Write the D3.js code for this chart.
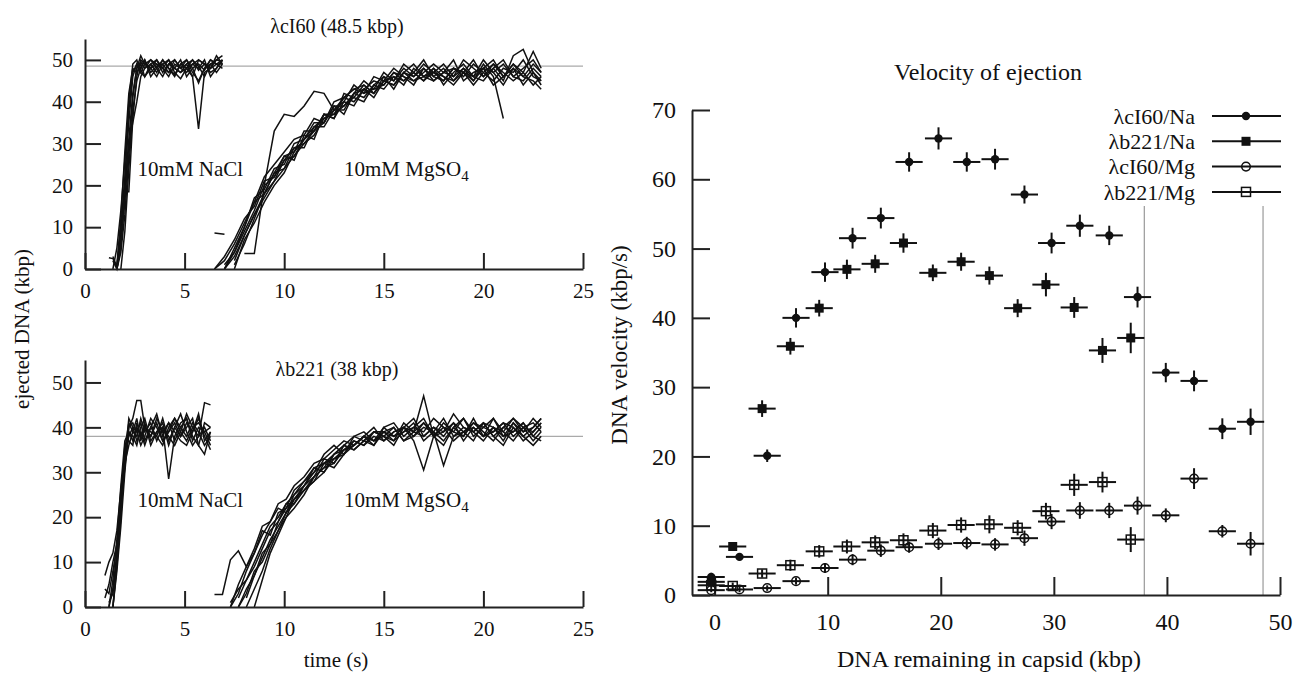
<!DOCTYPE html>
<html>
<head>
<meta charset="utf-8">
<script src="https://cdn.jsdelivr.net/npm/d3@7"></script>
<style>
  body { margin: 0; background: #fff; }
  text { font-family: "Liberation Serif", "DejaVu Serif", serif; fill: #111; }
</style>
</head>
<body>
<div id="chart"></div>
<script>
// ---- left panels: ejection traces (kbp vs s) ----
const timeTicks = [0, 5, 10, 15, 20, 25];
const kbpTicks  = [0, 10, 20, 30, 40, 50];

// λcI60, NaCl
const tNaTop = [1.2,1.4,1.6,1.8,2.0,2.2,2.4,2.6,2.8,3.0,3.3,3.6,3.9,4.2,4.5,4.8,5.1,5.4,5.7,6.0,6.3,6.6,6.9];
const naTop = [
  [2.7,2.5,0.5,9,19,31,42,48,49.5,48,49,47,50,48,46.5,49,48,50,47.5,49,48,50,51],
  [null,0,5,14,26,38,47,49,48,50,47,48.5,49,47,48,50,46,48,49,47.5,50,49,48],
  [null,null,0,7,18.5,18.5,36,46,50,49,48,50,47,49,48,47,49,50,48.5,46,49,50,49.5],
  [null,null,0,4,13,27,41,48,51,49,50,48,46,49,50,48,49,46,33.5,47,48,49,50],
  [null,3,0.5,10,22,35,46,49,47,46,48,49,48,50,47,45.5,48,49,50,49,47,48,50],
  [null,null,0,6,16,30,35,40,46,48,50,49,48,46,49,48,50,47,45,48,50,49,49],
  [null,null,1,12,28,42,48,47,49,46,49,50,48,47,50,48,47,49,48,50,46,48,50],
  [null,null,null,0,9,24,38,45,48,50,46,48,50,48,46,49,50,48,44.5,48,49,47,49],
  [null,2,0,5,20,40,49,50,47,49,48,46,49,50,48,47,48,46,50,49,48,51,49]
];
// λcI60, MgSO4
const tMgTop = [6.5,7.0,7.5,8.0,8.5,9.0,9.5,10.0,10.5,11.0,11.5,12.0,12.5,13.0,13.5,14.0,14.5,15.0,15.5,16.0,16.5,17.0,17.5,18.0,18.5,19.0,19.5,20.0,20.5,21.0,21.5,22.0,22.5,22.9];
const mgTop = [
  [0,3,7,12,15,21,22,27,28,33,33,37,37,41,40,43,42,45,44,47,46,48,45,47,48,46,49,47,45,48,47,50,46,45],
  [null,0,5,10,17,19,24,25,30,31,35,35,39,39,42,41,44,43,46,45,47,45,47,49,46,48,45,48,50,46,49,47,44,46],
  [null,1,4,9,14,20,22,26,27,31,34,36,38,40,39,43,45,44,47,46,44,48,46,45,48,47,50,46,48,45,51,52.5,47,44],
  [null,null,2,8,13,18,23,24,29,30,33,37,36,42,41,44,42,46,45,49,47,45,48,46,44,47,45,49,46,36],
  [null,null,null,3.7,3.7,20,33,37,36.5,39,42.5,42,38,41,43,44,42,45,44,47,49,46,47,45,48,47,46,48,47,49,46,48,50,47],
  [0,2,6,11,16,22,25,28,31,32,36,35,40,41,43,42,46,45,48,46,45,47,49,47,46,50,48,46,49,47,45,47,52,48],
  [null,0,3,8,13,17,21,24,27,30,32,36,37,39,41,40,44,46,43,47,45,46,48,44,47,49,46,45,48,50,46,45,48,46],
  [null,null,1,6,12,18,21,26,29,29,34,34,38,38,42,43,41,45,46,44,48,46,45,47,50,45,47,48,44,46,49,46,45,43],
  [null,0,4,10,16,18,23,27,26,32,31,37,36,40,44,42,43,47,45,48,46,49,47,46,45,48,46,50,47,44,48,46,49,47],
  [null,null,0,7,11,16,20,23,28,31,33,35,39,37,42,45,43,44,47,45,47,50,46,48,45,47,44,47,49,46,48,44,47,45],
  [8.6,8.3]
];

// λb221, NaCl
const tNaBot = [1.0,1.2,1.4,1.6,1.8,2.0,2.2,2.4,2.6,2.8,3.0,3.3,3.6,3.9,4.2,4.5,4.8,5.1,5.4,5.7,6.0,6.3];
const naBot = [
  [7,10,12,17,26,34,40,42,46,46,40,38,41,37,39,42,40,38,41,39,36,38],
  [2,5,10,14,22,31,39,37,40,38,41,36,39,40,28.5,38,41,42,37,40,39,40],
  [null,0,4,12,24,35,41,39,38,42,39,41,37,40,38,36,39,43,40,38,45.5,45],
  [null,null,0,9,20,33,38,40,37,39,36,40,43,38,41,39,37,36,39,42,38,35],
  [null,1,3,11,23,36,37,36,41,38,40,39,38,42,37,40,43,39,36,38,40,37],
  [null,null,0,8,18,30,40,41,39,36,38,42,40,37,39,41,38,40,42,36,34,39],
  [null,0,6,15,27,37,39,38,36,40,42,37,39,41,36,40,38,41,39,43,37,39],
  [4,3,8,13,25,33,42,40,39,41,37,40,38,36,40,42,39,37,40,41,39,36],
  [null,null,0,10,21,32,36,39,42,37,40,38,42,39,41,37,40,42,38,36,41,40]
];
// λb221, MgSO4
const tMgBot = [6.5,6.9,7.3,7.7,8.1,8.5,8.9,9.3,9.7,10.1,10.5,11.0,11.5,12.0,12.5,13.0,13.5,14.0,14.5,15.0,15.5,16.0,16.5,17.0,17.5,18.0,18.5,19.0,19.5,20.0,20.5,21.0,21.5,22.0,22.5,22.9];
const mgBot = [
  [2.8,2.8,10.5,12.5,9,12,16,19,22,21,25,27,30,32,33,35,37,36,39,38,40,37,39,41,38,40,39,42,38,40,39,41,38,40,39,41],
  [null,null,0,3,8,12,17,16,21,22,24,27,29,31,34,35,36,38,37,39,38,40,39,47,38,36,40,38,41,39,37,40,39,41,38,40],
  [null,null,null,0,4,7,11,15,18,21,23,26,28,30,33,34,37,36,38,37,39,40,37,30.5,38,39,41,37,40,38,42,39,37,40,41,39],
  [null,null,null,null,0,4,8,13,17,20,22,25,29,31,32,35,36,38,36,39,40,37,38,40,39,31.5,38,40,39,41,38,36,40,38,36,38],
  [null,null,1,4,6,10,14,18,20,23,25,28,31,30,34,36,35,37,39,38,37,41,39,38,40,39,43,40,39,37,40,38,41,39,42,40],
  [null,null,null,null,null,0,6,12,16,20,24,26,28,32,31,34,36,38,37,40,38,39,41,37,39,42,38,39,40,38,39,41,40,37,39,41],
  [null,null,0,5,9,13,18,19,23,24,27,29,32,33,35,37,36,38,40,37,39,40,38,41,39,37,40,42,39,41,38,40,42,39,40,42],
  [null,null,null,2,6,9,13,17,19,22,26,28,30,34,36,34,38,37,36,40,41,38,40,39,42,40,37,39,41,40,42,38,39,41,38,37],
  [null,null,null,null,2,7,12,14,19,23,23,27,31,32,34,36,38,39,37,38,36,40,42,38,40,38,41,39,37,41,40,39,42,40,37,39],
  [null,null,null,0,3,8,10,14,17,21,24,26,29,33,32,36,35,37,39,39,37,39,40,42,38,41,39,38,42,38,40,37,41,38,40,42]
];

// ---- right panel: velocity of ejection ----
const remTicks = [0, 10, 20, 30, 40, 50];
const velTicks = [0, 10, 20, 30, 40, 50, 60, 70];
const binHalf = 1.2;   // half width of the kbp bins (horizontal bars)
const genomeLines = [38, 48.5];

const cI60Na_x = [-0.3,2.2,4.65,7.2,9.76,12.2,14.7,17.2,19.8,22.3,24.8,27.4,29.8,32.3,34.9,37.4,39.9,42.4,44.9,47.4];
const cI60Na_y = [2.6,5.5,20.1,40.0,46.6,51.5,54.4,62.5,65.9,62.5,62.9,57.8,50.8,53.3,51.9,43.0,32.1,30.9,24.0,25.0];
const cI60Na_e = [0.6,0.5,0.9,1.4,1.4,1.5,1.5,1.4,1.6,1.4,1.5,1.3,1.5,1.6,1.4,1.5,1.4,1.5,1.5,1.9];

const b221Na_x = [-0.3,1.6,4.2,6.7,9.25,11.7,14.2,16.7,19.3,21.8,24.3,26.8,29.3,31.8,34.3,36.8];
const b221Na_y = [1.9,7.0,26.9,35.9,41.4,47.0,47.8,50.8,46.5,48.1,46.1,41.4,44.8,41.5,35.3,37.1];
const b221Na_e = [0.5,0.5,1.2,1.2,1.2,1.4,1.3,1.4,1.2,1.3,1.3,1.3,1.7,1.5,1.8,2.2];

const cI60Mg_x = [-0.3,2.2,4.65,7.2,9.76,12.2,14.7,17.2,19.8,22.3,24.8,27.4,29.8,32.3,34.9,37.4,39.9,42.4,44.9,47.4];
const cI60Mg_y = [0.7,0.8,1.0,2.0,3.9,5.1,6.4,6.9,7.4,7.5,7.3,8.2,10.6,12.2,12.2,12.9,11.5,16.8,9.2,7.4];
const cI60Mg_e = [0.3,0.4,0.4,0.5,0.7,0.8,0.9,0.8,0.9,0.9,0.9,1.1,1.1,1.2,1.1,1.3,1.0,1.5,0.9,1.7];

const b221Mg_x = [-0.3,1.6,4.2,6.7,9.25,11.7,14.2,16.7,19.3,21.8,24.3,26.8,29.3,31.8,34.3,36.8];
const b221Mg_y = [1.4,1.3,3.1,4.3,6.3,7.0,7.6,7.9,9.3,10.1,10.2,9.7,12.1,15.9,16.3,8.0];
const b221Mg_e = [0.4,0.5,0.6,0.8,0.9,1.0,1.0,1.0,1.1,1.1,1.3,1.1,1.2,1.6,1.5,1.8];

const seriesNames = ["λcI60/Na", "λb221/Na", "λcI60/Mg", "λb221/Mg"];
const seriesMarks = ["dot", "square", "ring", "box"];

const W = 1293, H = 673;
const svg = d3.select("#chart").append("svg")
  .attr("width", W).attr("height", H)
  .style("background", "#fff");

// axes with inward ticks, only left + bottom lines
function axes(x, y, xt, yt, fs, padX, padY, tick) {
  const gx = svg.append("g")
    .attr("transform", `translate(0,${y.range()[0]})`)
    .call(d3.axisBottom(x).tickValues(xt).tickSizeInner(-tick).tickSizeOuter(0).tickPadding(padX));
  const gy = svg.append("g")
    .attr("transform", `translate(${x.range()[0]},0)`)
    .call(d3.axisLeft(y).tickValues(yt).tickSizeInner(-tick).tickSizeOuter(0).tickPadding(padY));
  [gx, gy].forEach(g => {
    g.attr("font-size", fs).attr("font-family", null);
    g.selectAll("path.domain, line").attr("stroke", "#222").attr("stroke-width", 2);
  });
}

function tracePanel(x, y, grids, refVal) {
  svg.append("line")
    .attr("x1", x.range()[0]).attr("x2", x.range()[1])
    .attr("y1", y(refVal)).attr("y2", y(refVal))
    .attr("stroke", "#aaa").attr("stroke-width", 1.2);
  const line = d3.line()
    .defined(d => d[1] != null)
    .x(d => x(d[0])).y(d => y(d[1]));
  grids.forEach(([ts, traces]) => {
    svg.append("g").selectAll("path")
      .data(traces)
      .join("path")
      .attr("d", tr => line(ts.map((t, i) => [t, tr[i]])))
      .attr("fill", "none")
      .attr("stroke", "#111")
      .attr("stroke-width", 1.5);
  });
}

function condLabels(x, y) {
  svg.append("text").attr("x", x(2.64)).attr("y", y(24)).attr("dy", "0.35em")
    .attr("font-size", 21).text("10mM NaCl");
  const t = svg.append("text").attr("x", x(13.0)).attr("y", y(24)).attr("dy", "0.35em")
    .attr("font-size", 21).text("10mM MgSO");
  t.append("tspan").attr("font-size", 15).attr("dy", 5).text("4");
}

// top-left
const xL = d3.scaleLinear().domain([0, 25]).range([85, 583]);
const yTop = d3.scaleLinear().domain([0, 55]).range([269, 39]);
tracePanel(xL, yTop, [[tNaTop, naTop], [tMgTop, mgTop]], 48.5);
axes(xL, yTop, timeTicks, kbpTicks, 21, 14, 12, 16);
condLabels(xL, yTop);
svg.append("text").attr("x", 337).attr("y", 33).attr("text-anchor", "middle")
  .attr("font-size", 20).text("λcI60 (48.5 kbp)");

// bottom-left
const yBot = d3.scaleLinear().domain([0, 55]).range([607, 360]);
tracePanel(xL, yBot, [[tNaBot, naBot], [tMgBot, mgBot]], 38);
axes(xL, yBot, timeTicks, kbpTicks, 21, 14, 12, 16);
condLabels(xL, yBot);
svg.append("text").attr("x", 337).attr("y", 376).attr("text-anchor", "middle")
  .attr("font-size", 20).text("λb221 (38 kbp)");

svg.append("text").attr("x", 336).attr("y", 667).attr("text-anchor", "middle")
  .attr("font-size", 21).text("time (s)");
svg.append("text").attr("transform", "translate(29,329) rotate(-90)")
  .attr("text-anchor", "middle").attr("font-size", 21).text("ejected DNA (kbp)");

// right panel
const xR = d3.scaleLinear().domain([-2, 50]).range([692, 1280]);
const yR = d3.scaleLinear().domain([0, 70]).range([595, 110]);

svg.append("g").selectAll("line")
  .data(genomeLines)
  .join("line")
  .attr("x1", d => xR(d)).attr("x2", d => xR(d))
  .attr("y1", yR(0)).attr("y2", yR(70))
  .attr("stroke", "#999").attr("stroke-width", 1.2);

axes(xR, yR, remTicks, velTicks, 24, 18, 16, 18);

const series = [
  [cI60Na_x, cI60Na_y, cI60Na_e],
  [b221Na_x, b221Na_y, b221Na_e],
  [cI60Mg_x, cI60Mg_y, cI60Mg_e],
  [b221Mg_x, b221Mg_y, b221Mg_e]
];

// open markers are hollow: the error bars show through them
function marker(g, kind, cx, cy) {
  if (kind === "dot")
    g.append("circle").attr("cx", cx).attr("cy", cy).attr("r", 4.2).attr("fill", "#111");
  else if (kind === "square")
    g.append("rect").attr("x", cx - 4.5).attr("y", cy - 4.5).attr("width", 9).attr("height", 9).attr("fill", "#111");
  else if (kind === "ring")
    g.append("circle").attr("cx", cx).attr("cy", cy).attr("r", 4.3)
      .attr("fill", "none").attr("stroke", "#111").attr("stroke-width", 1.5);
  else
    g.append("rect").attr("x", cx - 4.5).attr("y", cy - 4.5).attr("width", 9).attr("height", 9)
      .attr("fill", "none").attr("stroke", "#111").attr("stroke-width", 1.5);
}

series.forEach(([xs, ys, es], k) => {
  const g = svg.append("g");
  xs.forEach((xv, i) => {
    const cx = xR(xv), cy = yR(ys[i]);
    g.append("line").attr("x1", xR(xv - binHalf)).attr("x2", xR(xv + binHalf))
      .attr("y1", cy).attr("y2", cy).attr("stroke", "#111").attr("stroke-width", 2);
    g.append("line").attr("x1", cx).attr("x2", cx)
      .attr("y1", yR(Math.max(0, ys[i] - es[i]))).attr("y2", yR(ys[i] + es[i]))
      .attr("stroke", "#111").attr("stroke-width", 2);
    marker(g, seriesMarks[k], cx, cy);
  });
});

// legend (opaque, hides the reference lines behind it)
const leg = svg.append("g");
leg.append("rect").attr("x", 1085).attr("y", 100).attr("width", 205).attr("height", 106).attr("fill", "#fff");
seriesNames.forEach((name, i) => {
  const yy = 116 + i * 25.3;
  leg.append("text").attr("x", 1195).attr("y", yy).attr("dy", "0.35em")
    .attr("text-anchor", "end").attr("font-size", 22).text(name);
  leg.append("line").attr("x1", 1212).attr("x2", 1281).attr("y1", yy).attr("y2", yy)
    .attr("stroke", "#111").attr("stroke-width", 2);
  marker(leg, seriesMarks[i], 1246, yy);
});

svg.append("text").attr("x", 988).attr("y", 80).attr("text-anchor", "middle")
  .attr("font-size", 24).text("Velocity of ejection");
svg.append("text").attr("x", 989).attr("y", 667).attr("text-anchor", "middle")
  .attr("font-size", 24).text("DNA remaining in capsid (kbp)");
svg.append("text").attr("transform", "translate(627,345) rotate(-90)")
  .attr("text-anchor", "middle").attr("font-size", 23).text("DNA velocity (kbp/s)");
</script>
</body>
</html>
